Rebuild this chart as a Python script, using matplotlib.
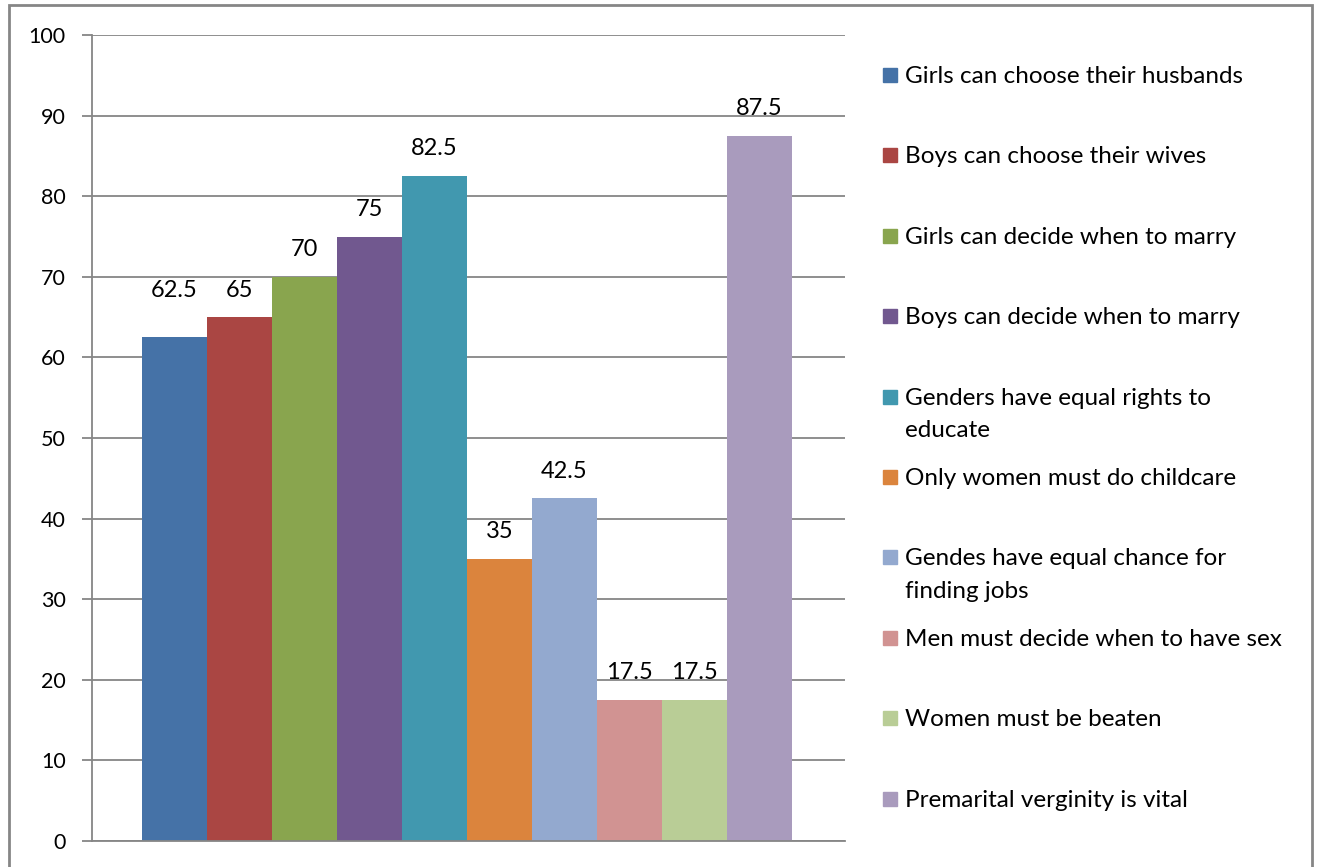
import matplotlib.pyplot as plt
from matplotlib.patches import Rectangle

labels = ['Girls can choose their husbands', 'Boys can choose their wives',
          'Girls can decide when to marry', 'Boys can decide when to marry',
          'Genders have equal rights to\neducate', 'Only women must do childcare',
          'Gendes have equal chance for\nfinding jobs', 'Men must decide when to have sex',
          'Women must be beaten', 'Premarital verginity is vital']
values = [62.5, 65, 70, 75, 82.5, 35, 42.5, 17.5, 17.5, 87.5]
colors = ['#4572A7', '#AA4643', '#89A54E', '#71588F', '#4198AF',
          '#DB843D', '#93A9CF', '#D19392', '#B9CD96', '#A99BBD']

plt.rcParams['font.family'] = ['Lato', 'DejaVu Sans']

W, H = 1317, 867
fig = plt.figure(figsize=(W / 100, H / 100), dpi=100)
ax = fig.add_axes([92 / W, 1 - 841 / H, (845 - 92) / W, (841 - 35) / H])

x = list(range(len(values)))
bars = ax.bar(x, values, width=1.0, color=colors)
for xi, v in zip(x, values):
    # first label is lifted to sit level with its neighbour, as in the source
    off = 34 if xi == 0 else 19.5
    ax.annotate(f'{v:g}', (xi, v), xytext=(0, off), textcoords='offset points',
                ha='center', va='center', fontsize=17)

ax.set_ylim(0, 100)
ax.set_yticks(range(0, 101, 10))
ax.set_xlim(-0.5 - 50 / 65, 9.5 + 53 / 65)
ax.set_xticks([])
ax.yaxis.grid(True, color='#868686', linewidth=1.3)
ax.set_axisbelow(True)
for s in ['top', 'right']:
    ax.spines[s].set_visible(False)
for s in ['left', 'bottom']:
    ax.spines[s].set_color('#868686')
    ax.spines[s].set_linewidth(1.3)
ax.tick_params(axis='y', length=7, width=1.3, color='#868686', labelsize=15.5, pad=12)

# legend drawn by hand so the marker sits on the first line of wrapped labels
for i, (lab, c) in enumerate(zip(labels, colors)):
    yy = 1 - (75 + 80.4 * i) / H
    fig.patches.append(Rectangle((883 / W, yy - 7 / H), 14 / W, 14 / H,
                                 transform=fig.transFigure, color=c))
    fig.text(905 / W, yy + 9 / H, lab, fontsize=17.5, va='top', ha='left',
             linespacing=1.7)

fig.patches.append(Rectangle((9 / W, -0.01), (1312 - 9) / W, 1.01 - 5 / H,
                             transform=fig.transFigure, fill=False,
                             edgecolor='#868686', linewidth=2))

fig.savefig('out.png', dpi=100)
